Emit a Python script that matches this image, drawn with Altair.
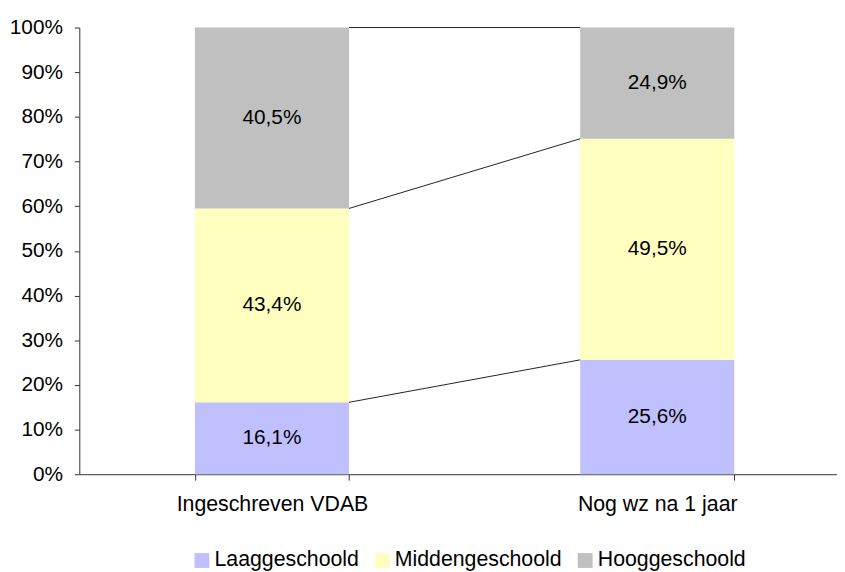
import altair as alt
import pandas as pd

categories = ["Ingeschreven VDAB", "Nog wz na 1 jaar"]
levels = ["Laaggeschoold", "Middengeschoold", "Hooggeschoold"]
laag = [16.1, 25.6]
midden = [43.4, 49.5]
hoog = [40.5, 24.9]
colors = ["#C0C0FF", "#FFFFC0", "#C0C0C0"]
y_ticks = [0, 10, 20, 30, 40, 50, 60, 70, 80, 90, 100]

series = {"Laaggeschoold": laag, "Middengeschoold": midden, "Hooggeschoold": hoog}

rows = []
for i, cat in enumerate(categories):
    base = 0.0
    for k, lvl in enumerate(levels):
        v = series[lvl][i]
        rows.append({
            "cat": cat, "level": lvl, "order": k,
            "y0": base, "y1": min(base + v, 100.0), "mid": base + v / 2,
            "label": f"{v:.1f}".replace(".", ",") + "%",
        })
        base += v
df = pd.DataFrame(rows)

line_rows = []
for lvl in levels:
    a = df[(df.cat == categories[0]) & (df.level == lvl)].iloc[0]
    b = df[(df.cat == categories[1]) & (df.level == lvl)].iloc[0]
    line_rows.append({"from": categories[0], "to": categories[1], "ya": a.y1, "yb": b.y1})
lines = pd.DataFrame(line_rows)

FONT = "Liberation Sans"

xscale = alt.Scale(domain=categories, range=[0, 778], paddingInner=0.6, paddingOuter=0.3)
yscale = alt.Scale(domain=[0, 100], nice=False)

xaxis = alt.Axis(title=None, labelAngle=0, tickBand="extent", tickSize=6,
                 labelFontSize=21.5, labelPadding=14, labelColor="black", labelLimit=0,
                 domainColor="#333333", tickColor="#333333", grid=False)
yaxis = alt.Axis(title=None, values=y_ticks, labelExpr="datum.value + '%'",
                 tickSize=5, labelPadding=12, labelFontSize=21, labelColor="black",
                 domainColor="#333333", tickColor="#333333", grid=False)

bars = alt.Chart(df).mark_bar().encode(
    x=alt.X("cat:N", scale=xscale, axis=xaxis, sort=categories),
    y=alt.Y("y0:Q", scale=yscale, axis=yaxis),
    y2="y1:Q",
    color=alt.Color("level:N", sort=levels,
                    scale=alt.Scale(domain=levels, range=colors),
                    legend=alt.Legend(orient="none", direction="horizontal",
                                      legendX=113, legendY=527, title=None,
                                      symbolType="square", symbolSize=225,
                                      symbolStrokeWidth=0, symbolOpacity=1,
                                      labelFontSize=21.5, labelColor="black", labelLimit=0,
                                      columnPadding=12, labelOffset=2, padding=0)),
    order="order:Q",
)

texts = alt.Chart(df).mark_text(fontSize=21, color="black", baseline="middle", align="center").encode(
    x=alt.X("cat:N", scale=xscale, sort=categories),
    y=alt.Y("mid:Q", scale=yscale),
    text="label:N",
)

rules = alt.Chart(lines).mark_rule(color="#222222", strokeWidth=1).encode(
    x=alt.X("from:N", scale=xscale, sort=categories, bandPosition=1),
    x2=alt.X2("to:N", bandPosition=0),
    y=alt.Y("ya:Q", scale=yscale),
    y2="yb:Q",
)

chart = alt.layer(bars, rules, texts).properties(
    width=765, height=451,
    padding={"left": 72, "top": 17, "right": 0, "bottom": 96},
    autosize=alt.AutoSizeParams(type="none"),
).configure(font=FONT).configure_view(strokeWidth=0)

chart.save("out.html", embed_options={"renderer": "svg", "actions": False})
